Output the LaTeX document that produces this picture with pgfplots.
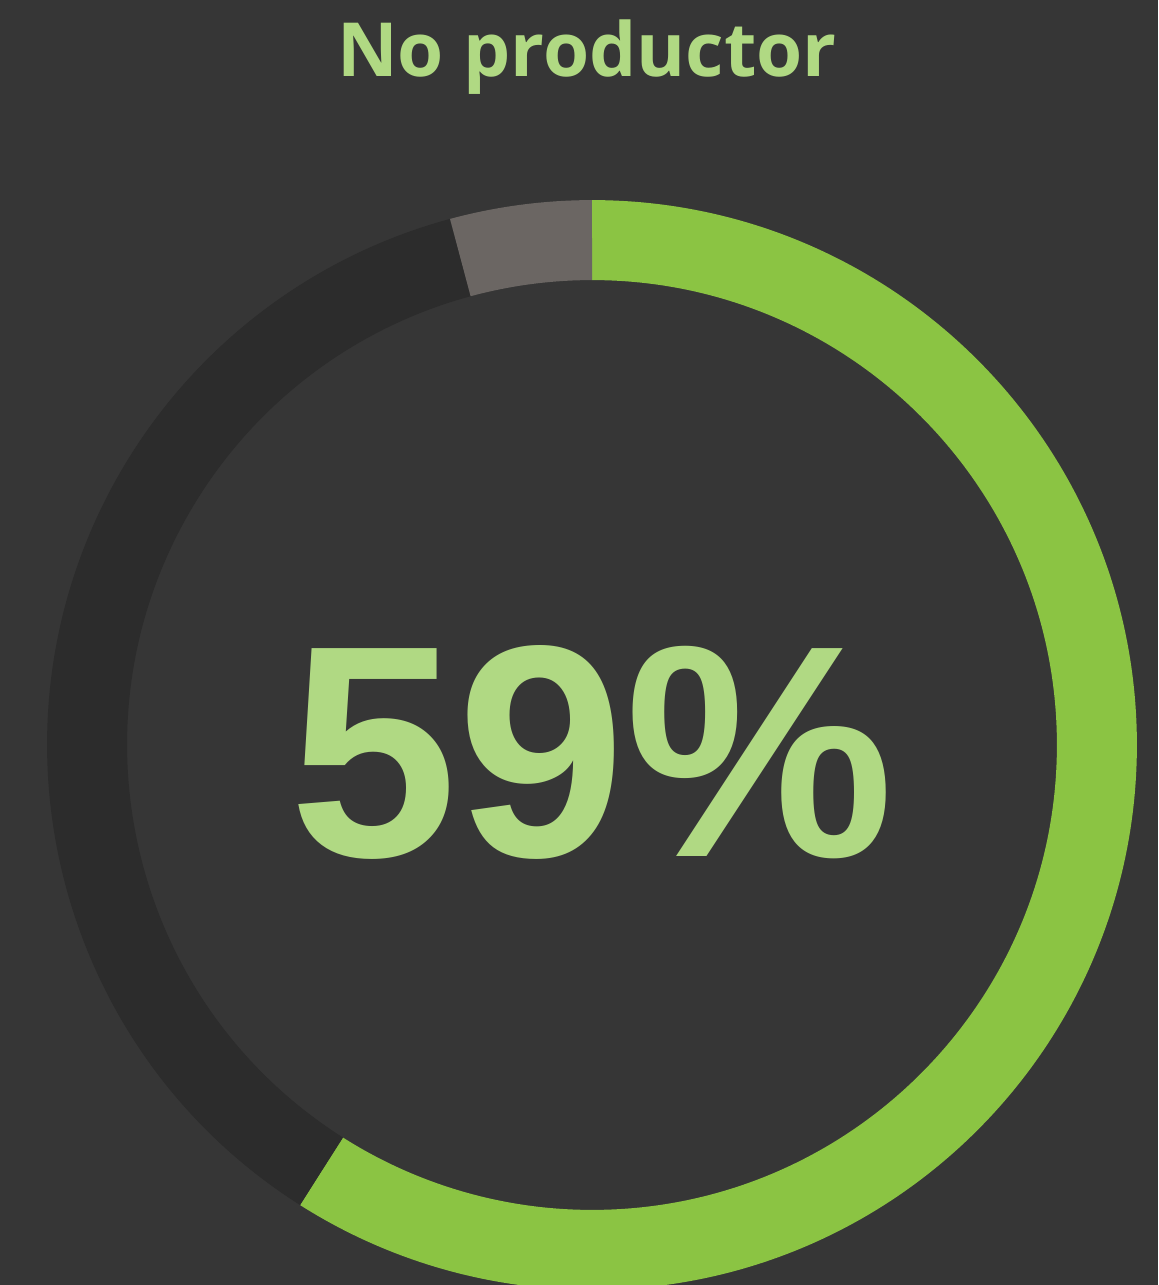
\documentclass[border=0pt]{standalone}
\usepackage{pgfplots}
\pgfplotsset{compat=1.18}
\usepackage{pgfplotstable}
\usepackage{fontspec}
\newfontfamily\titlefont{Open Sans}
\newfontfamily\numfont{Liberation Sans}
\definecolor{bg}{HTML}{363636}
\definecolor{cgreen}{HTML}{8BC443}
\definecolor{cdark}{HTML}{2C2C2C}
\definecolor{cgray}{HTML}{6B6663}
\definecolor{ctext}{HTML}{B0D983}
\pgfplotstableread{
label value
productor 59.0
resto 36.8
nd 4.2
}\donutdata
\begin{document}
\begin{tikzpicture}
\pgfplotstablegetelem{0}{value}\of\donutdata \let\va\pgfplotsretval
\pgfplotstablegetelem{1}{value}\of\donutdata \let\vb\pgfplotsretval
\pgfplotstablegetelem{2}{value}\of\donutdata \let\vc\pgfplotsretval
\pgfmathsetmacro{\aA}{90}
\pgfmathsetmacro{\aB}{90-3.6*\va}
\pgfmathsetmacro{\aC}{\aB-3.6*\vb}
\pgfmathsetmacro{\aD}{\aC-3.6*\vc}
\begin{axis}[
  x=0.02cm, y=0.02cm,
  xmin=0, xmax=1158, ymin=0, ymax=1285,
  scale only axis, hide axis, clip=true,
]
\fill[bg] (axis cs:0,0) rectangle (axis cs:1158,1285);
% ring centre (592,540) in axis coords (y up), mid radius 505, width 80
\draw[cgreen, line width=1.6cm] (axis cs:592,540) ++(\aA:10.1cm) arc[start angle=\aA, end angle=\aB, radius=10.1cm];
\draw[cdark, line width=1.6cm] (axis cs:592,540) ++(\aB:10.1cm) arc[start angle=\aB, end angle=\aC, radius=10.1cm];
\draw[cgray, line width=1.6cm] (axis cs:592,540) ++(\aC:10.1cm) arc[start angle=\aC, end angle=\aD, radius=10.1cm];
\node[text=ctext, font=\titlefont\bfseries\fontsize{42.5}{50}\selectfont, anchor=base] at (axis cs:587,1208) {No productor};
\node[text=ctext, font=\numfont\bfseries\fontsize{172}{200}\selectfont, anchor=base] at (axis cs:592,428) {59\%};
\end{axis}
\end{tikzpicture}
\end{document}
